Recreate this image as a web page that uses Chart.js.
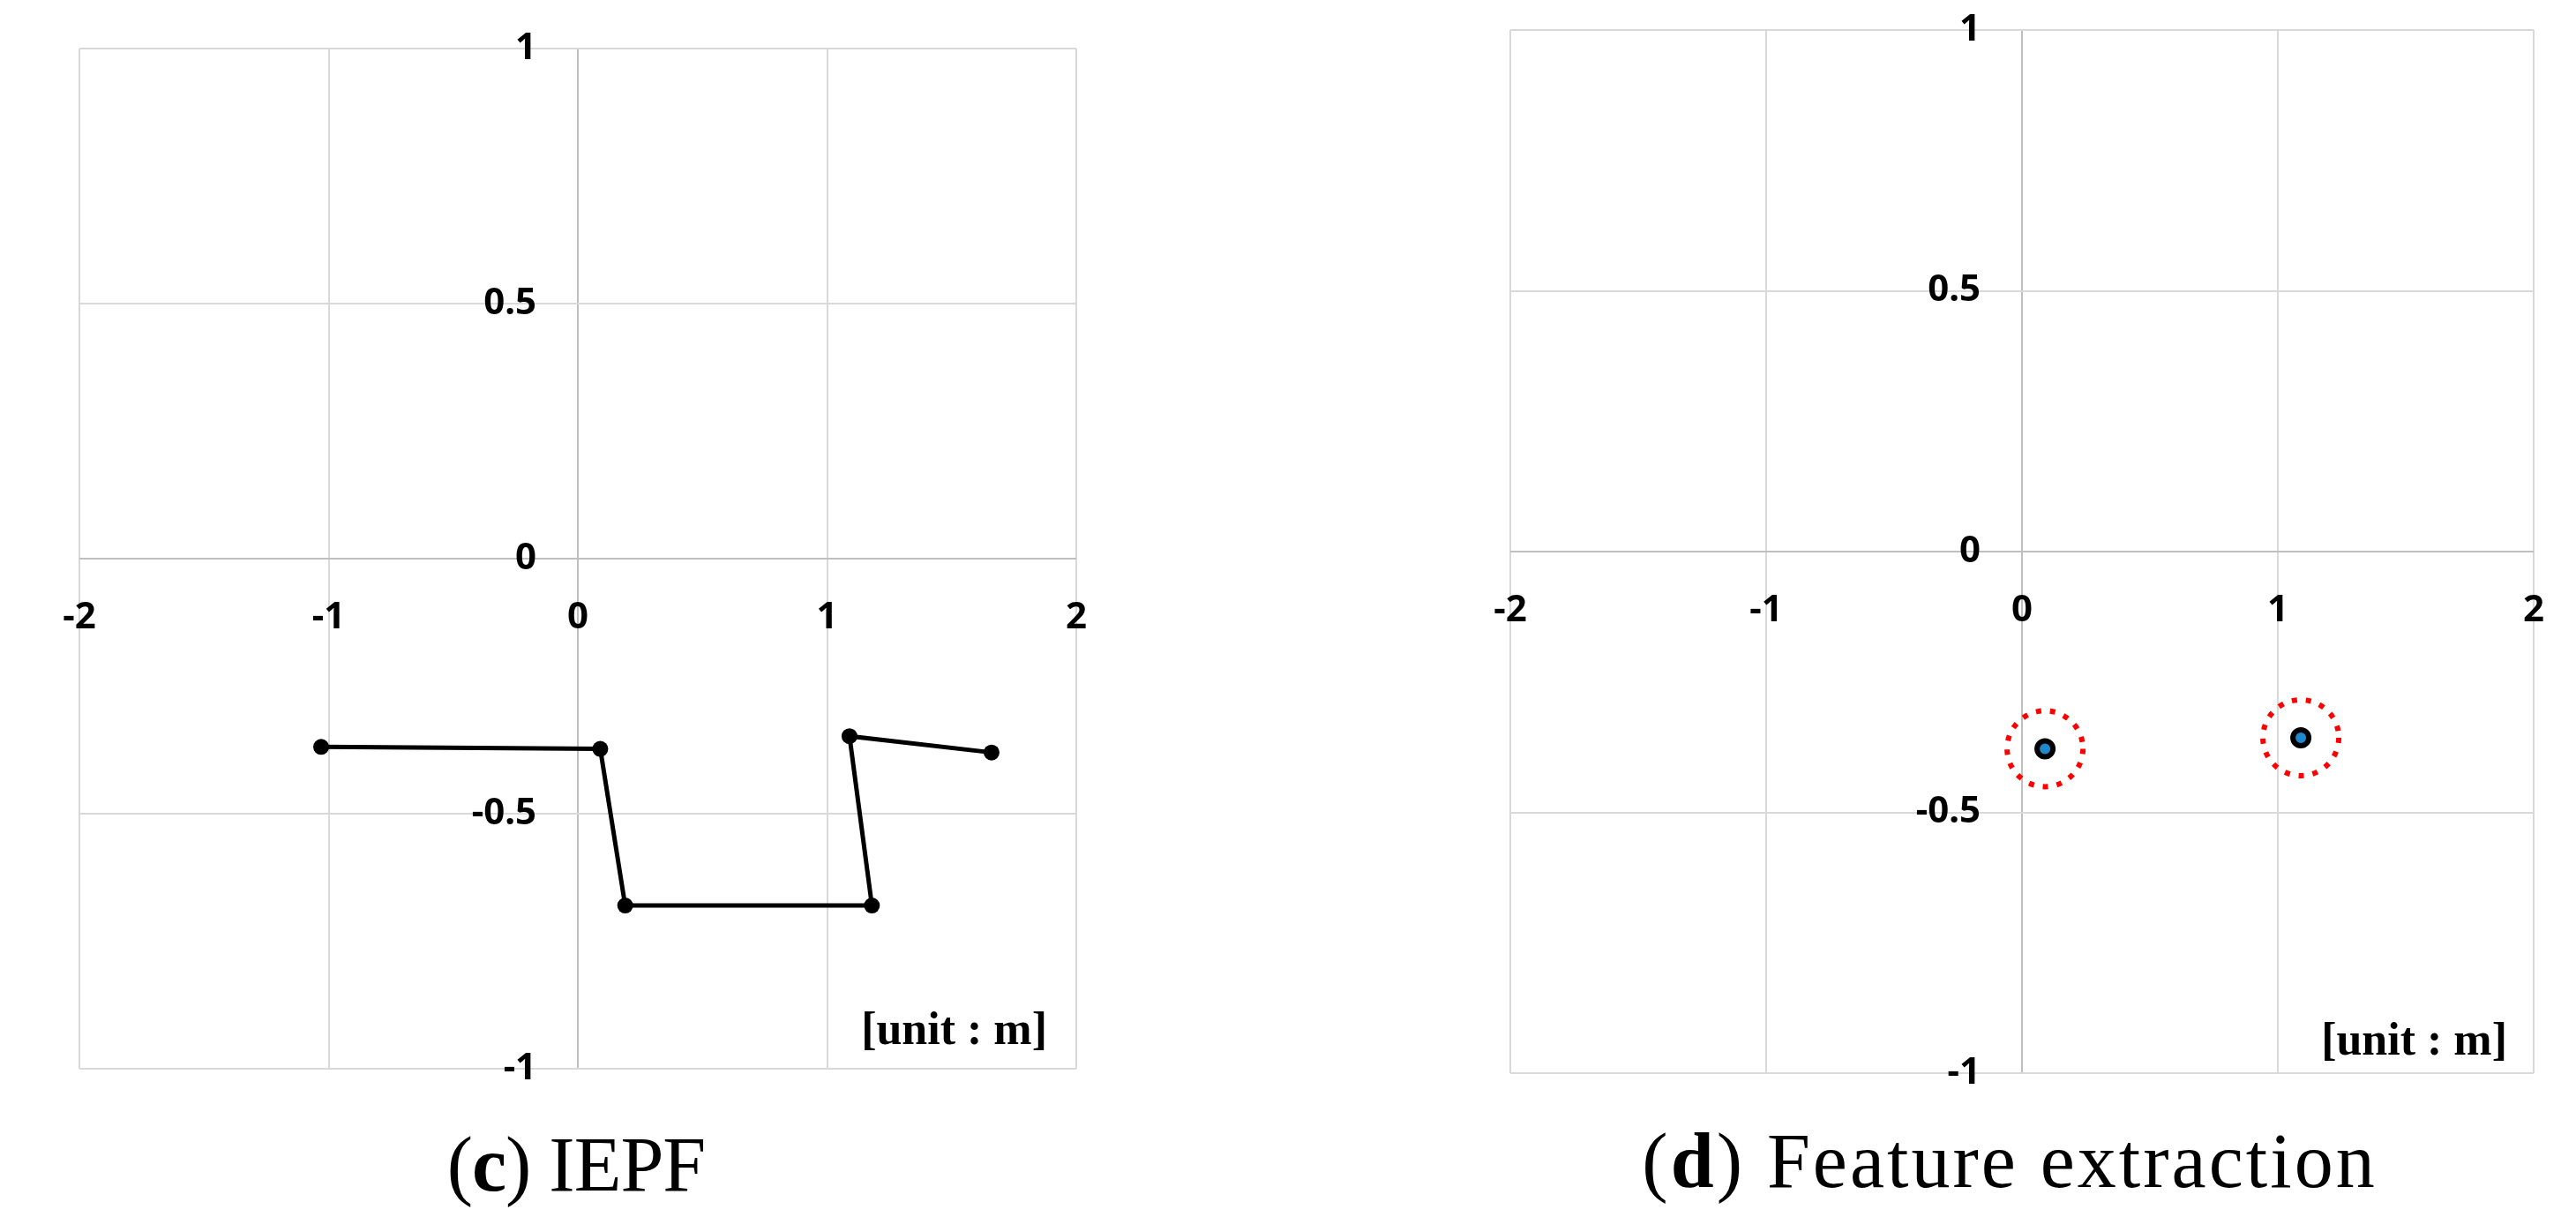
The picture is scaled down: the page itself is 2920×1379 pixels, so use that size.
<!DOCTYPE html>
<html>
<head>
<meta charset="utf-8">
<script src="https://cdn.jsdelivr.net/npm/chart.js@4.4.1/dist/chart.umd.min.js"></script>
<style>
  body { margin: 0; background: #fff; width: 2920px; height: 1379px; position: relative; overflow: hidden; }
  .box { position: absolute; }
  .cap { position: absolute; font-family: "Liberation Serif", serif; font-size: 88px; line-height: 88px;
         white-space: nowrap; transform: translateX(-50%); color: #000; }
</style>
</head>
<body>
<div class="box" style="left:20px; top:-15px; width:1270px; height:1296px;"><canvas id="iepfChart" width="1270" height="1296"></canvas></div>
<div class="box" style="left:1642px; top:-36px; width:1300px; height:1322px;"><canvas id="featureChart" width="1300" height="1322"></canvas></div>
<div class="cap" style="left:653px; top:1276px; letter-spacing:-1px;">(<b>c</b>) IEPF</div>
<div class="cap" style="left:2278px; top:1272px; letter-spacing:3px;">(<b>d</b>) Feature extraction</div>
<script>
// axis ticks (metres)
const xTicks = [-2, -1, 0, 1, 2];
const yTicks = [-1, -0.5, 0, 0.5, 1];

// (c) IEPF polyline
const iepfX = [-1.03, 0.09, 0.19, 1.18, 1.09, 1.66];
const iepfY = [-0.369, -0.373, -0.68, -0.68, -0.348, -0.38];

// (d) extracted features
const featX = [0.09, 1.09];
const featY = [-0.378, -0.357];

const unitText = '[unit : m]';

function toPoints(xs, ys) {
    return xs.map((x, i) => ({ x: x, y: ys[i] }));
}

// "[unit : m]" in the lower right corner of the plot
const unitLabel = {
    id: 'unitLabel',
    afterDraw(chart, args, opts) {
        const { ctx, chartArea } = chart;
        ctx.save();
        ctx.font = 'bold 52px "Liberation Serif"';
        ctx.fillStyle = '#000';
        ctx.textAlign = 'right';
        ctx.textBaseline = 'alphabetic';
        ctx.fillText(unitText, chartArea.right - opts.right, chartArea.bottom - opts.bottom);
        ctx.restore();
    }
};

// dotted outline for the feature rings
const dottedRings = {
    id: 'dottedRings',
    beforeDatasetDraw(chart, args) {
        if (chart.data.datasets[args.index].dotted) {
            chart.ctx.save();
            chart.ctx.setLineDash([6, 10]);
        }
    },
    afterDatasetDraw(chart, args) {
        if (chart.data.datasets[args.index].dotted) chart.ctx.restore();
    }
};

// zero lines a bit darker than the rest of the grid
const gridColor = ctx => (ctx.tick && ctx.tick.value === 0) ? '#bfbfbf' : '#d9d9d9';

function axes(labelGap) {
    const tickFont = { family: 'Noto Sans', size: 42, weight: 'bold' };
    return {
        x: {
            type: 'linear',
            position: { y: 0 },
            min: xTicks[0],
            max: xTicks[xTicks.length - 1],
            ticks: { stepSize: xTicks[1] - xTicks[0], color: '#000', font: tickFont, padding: 42, maxRotation: 0 },
            grid: { color: gridColor, lineWidth: 2, drawTicks: false },
            border: { display: false }
        },
        y: {
            type: 'linear',
            // labels sit left of the x = 0 line, so anchor the axis slightly left of it
            position: { x: -labelGap },
            min: yTicks[0],
            max: yTicks[yTicks.length - 1],
            ticks: { stepSize: yTicks[1] - yTicks[0], color: '#000', font: tickFont, padding: 0,
                     callback: v => String(v) },
            grid: { color: gridColor, lineWidth: 2, drawTicks: false },
            border: { display: false }
        }
    };
}

function createChart(canvasId, datasets, labelGap, unitPos) {
    return new Chart(document.getElementById(canvasId), {
        type: 'scatter',
        data: { datasets: datasets },
        options: {
            responsive: false,
            animation: false,
            events: [],
            layout: { padding: 70 },
            scales: axes(labelGap),
            plugins: {
                legend: { display: false },
                tooltip: { enabled: false },
                unitLabel: unitPos
            }
        },
        plugins: [unitLabel, dottedRings]
    });
}

createChart('iepfChart', [{
    data: toPoints(iepfX, iepfY),
    showLine: true,
    borderColor: '#000',
    borderWidth: 5,
    tension: 0,
    pointRadius: 9,
    pointBackgroundColor: '#000',
    pointBorderWidth: 0
}], 0.166, { right: 33, bottom: 28 });

createChart('featureChart', [{
    data: toPoints(featX, featY),
    pointRadius: 9,
    pointBackgroundColor: '#1e88cc',
    pointBorderColor: '#000',
    pointBorderWidth: 6
}, {
    data: toPoints(featX, featY),
    dotted: true,
    pointRadius: 43,
    pointBackgroundColor: 'rgba(0,0,0,0)',
    pointBorderColor: '#ff0000',
    pointBorderWidth: 6
}], 0.162, { right: 30, bottom: 21 });
</script>
</body>
</html>
